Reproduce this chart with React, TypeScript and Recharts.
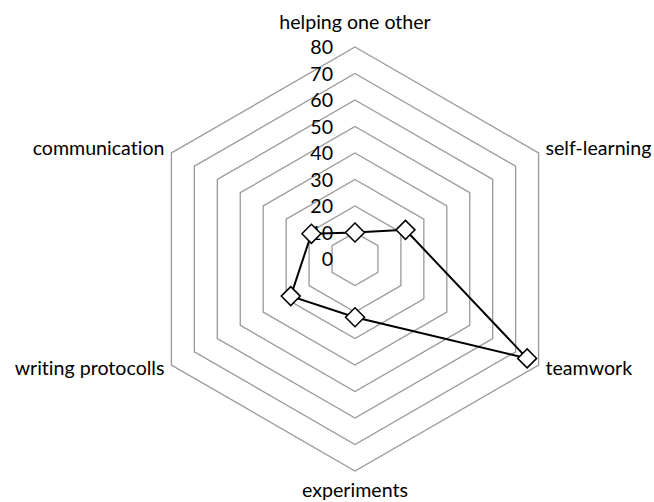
import React from 'react';
import { RadarChart, Radar, PolarGrid, PolarAngleAxis, PolarRadiusAxis } from 'recharts';

const categories = [
  'helping one other',
  'self-learning',
  'teamwork',
  'experiments',
  'writing protocolls',
  'communication',
];
const scores = [10, 22, 75, 22, 28, 19];
const radiusTicks = [0, 10, 20, 30, 40, 50, 60, 70, 80];

const data = categories.map((name, i) => ({ name, score: scores[i] }));

const CX = 355;
const CY = 259;
const OUTER = 212;
const FONT = 'Lato, "Noto Sans", sans-serif';
const textStyle = { fontVariantLigatures: 'none' as const };

function AngleTick(props: any) {
  const { payload } = props;
  const i = categories.indexOf(payload.value);
  const deg = 90 - i * 60;
  const rad = (deg * Math.PI) / 180;
  const r = OUTER + 8;
  const x = CX + r * Math.cos(rad);
  const y = CY - r * Math.sin(rad);
  const c = Math.cos(rad);
  let anchor: 'start' | 'end' | 'middle' = 'middle';
  if (c > 0.01) anchor = 'start';
  else if (c < -0.01) anchor = 'end';
  let dy = 6;
  if (anchor === 'middle') dy = y < CY ? -10 : 18;
  return (
    <text x={x} y={y + dy} textAnchor={anchor} fontSize={19.6} fontFamily={FONT} fill="#000" style={textStyle}>
      {payload.value}
    </text>
  );
}

function RadiusTick(props: any) {
  const { x, y, payload } = props;
  return (
    <text x={x - 22} y={y + 7} textAnchor="end" fontSize={19.6} fontFamily={FONT} fill="#000" style={textStyle}>
      {payload.value}
    </text>
  );
}

function Diamond(props: any) {
  const { cx, cy } = props;
  const s = 9.5;
  return (
    <path
      d={`M${cx},${cy - s} L${cx + s},${cy} L${cx},${cy + s} L${cx - s},${cy} Z`}
      fill="#fff"
      stroke="#000"
      strokeWidth={1.5}
    />
  );
}

export default function App() {
  return (
    <div style={{ position: 'absolute', left: 0, top: 0, background: '#fff' }}>
      <RadarChart width={654} height={502} data={data} cx={CX} cy={CY} outerRadius={OUTER}>
        <PolarGrid gridType="polygon" radialLines={false} stroke="#999" strokeWidth={1.3} />
        <PolarAngleAxis dataKey="name" tick={<AngleTick />} tickLine={false} axisLine={false} />
        <PolarRadiusAxis
          angle={90}
          domain={[0, 80]}
          tickCount={9}
          ticks={radiusTicks as any}
          axisLine={false}
          tickLine={false}
          tick={<RadiusTick />}
        />
        <Radar
          dataKey="score"
          stroke="#000"
          strokeWidth={2}
          fill="none"
          fillOpacity={0}
          dot={<Diamond />}
          isAnimationActive={false}
        />
      </RadarChart>
    </div>
  );
}
